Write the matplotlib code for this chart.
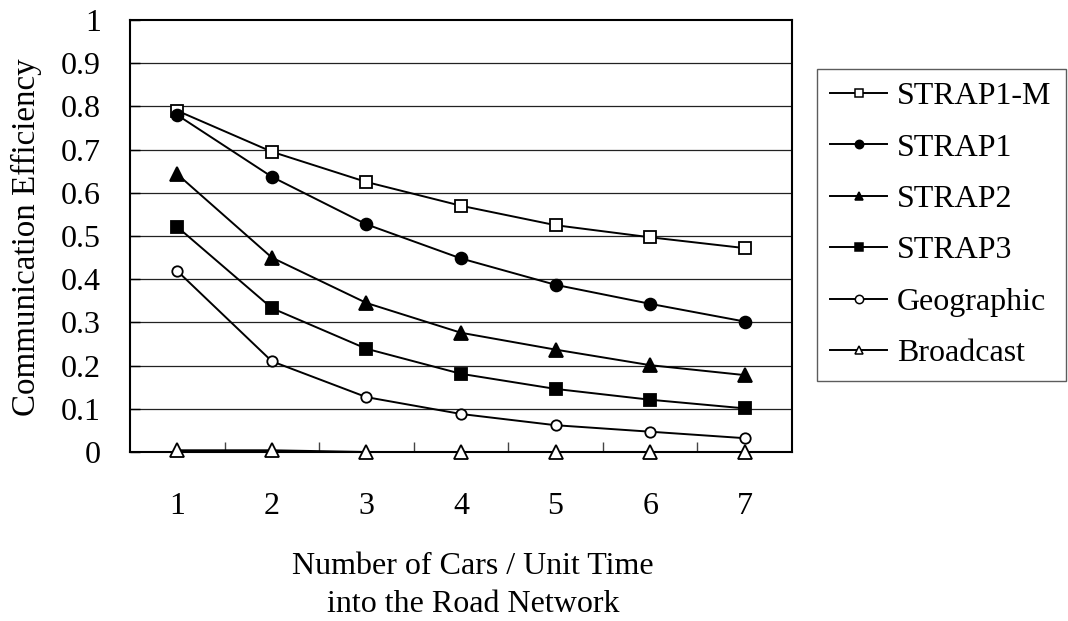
import matplotlib
matplotlib.use("Agg")
import matplotlib.pyplot as plt
import numpy as np

plt.rcParams['font.family'] = ['Liberation Serif', 'DejaVu Serif']

cars = [1, 2, 3, 4, 5, 6, 7]
strap1_m = [0.790, 0.695, 0.625, 0.570, 0.525, 0.497, 0.472]
strap1 = [0.780, 0.637, 0.527, 0.448, 0.387, 0.343, 0.302]
strap2 = [0.643, 0.450, 0.345, 0.276, 0.237, 0.201, 0.178]
strap3 = [0.521, 0.333, 0.239, 0.181, 0.146, 0.121, 0.101]
geographic = [0.419, 0.210, 0.127, 0.088, 0.062, 0.047, 0.032]
broadcast = [0.004, 0.004, 0.0, 0.0, 0.0, 0.0, 0.0]

y_ticks = [0, 0.1, 0.2, 0.3, 0.4, 0.5, 0.6, 0.7, 0.8, 0.9, 1]
y_tick_labels = ['0', '0.1', '0.2', '0.3', '0.4', '0.5', '0.6', '0.7', '0.8', '0.9', '1']

series = [
    ('STRAP1-M', strap1_m, 's', 'white', 8.5),
    ('STRAP1', strap1, 'o', 'black', 8.5),
    ('STRAP2', strap2, '^', 'black', 9.5),
    ('STRAP3', strap3, 's', 'black', 8.5),
    ('Geographic', geographic, 'o', 'white', 7.5),
    ('Broadcast', broadcast, '^', 'white', 9.5),
]

FS = 23

fig = plt.figure(figsize=(10.68, 6.21), dpi=100)
ax = fig.add_axes([130 / 1068, 1 - 452 / 621, 662 / 1068, 432 / 621])

for name, vals, mk, fc, ms in series:
    ax.plot(cars, vals, color='black', lw=1.4, marker=mk, markersize=ms,
            markerfacecolor=fc, markeredgecolor='black', markeredgewidth=1.3,
            label=name, clip_on=False, zorder=3)

ax.set_xlim(0.5, 7.5)
ax.set_ylim(0, 1)
ax.set_yticks(y_ticks)
ax.set_yticklabels(y_tick_labels)
ax.set_xticks(cars)
ax.set_xticklabels([str(c) for c in cars])
ax.set_xticks(np.arange(1.5, 7.0, 1.0), minor=True)

for y in y_ticks[1:-1]:
    ax.axhline(y, color='#222222', lw=0.9, zorder=1)

ax.tick_params(axis='x', which='major', length=0, pad=29, labelsize=FS)
ax.tick_params(axis='x', which='minor', direction='in', length=7, width=1, color='#444444')
ax.tick_params(axis='y', which='major', direction='in', length=7, width=1, pad=21,
               labelsize=FS)
for sp in ax.spines.values():
    sp.set_linewidth(1.5)
    sp.set_color('black')

fig.text(26 / 1068, 1 - 237 / 621, 'Communication Efficiency', rotation=90,
         ha='center', va='center', fontsize=FS + 0.8)
fig.text(473 / 1068, 1 - 567 / 621, 'Number of Cars / Unit Time', ha='center', va='center',
         fontsize=FS)
fig.text(473 / 1068, 1 - 605 / 621, 'into the Road Network', ha='center', va='center',
         fontsize=FS)

leg_handles = []
for name, vals, mk, fc, ms in series:
    h, = ax.plot([], [], color='black', lw=1.4, marker=mk, markersize=6,
                 markerfacecolor=fc, markeredgecolor='black', markeredgewidth=1.1)
    leg_handles.append(h)

leg = fig.legend(leg_handles, [s[0] for s in series], loc='upper left',
                 bbox_to_anchor=(817 / 1068, 1 - 373 / 621, 249 / 1068, 304 / 621),
                 bbox_transform=fig.transFigure, mode='expand', borderaxespad=0,
                 fontsize=FS, frameon=True, fancybox=False, handlelength=1.8,
                 handletextpad=0.3, labelspacing=0.69, borderpad=0.4)
leg.get_frame().set_edgecolor('#333333')
leg.get_frame().set_linewidth(1.0)

fig.savefig('out.png', dpi=100, facecolor='white')
